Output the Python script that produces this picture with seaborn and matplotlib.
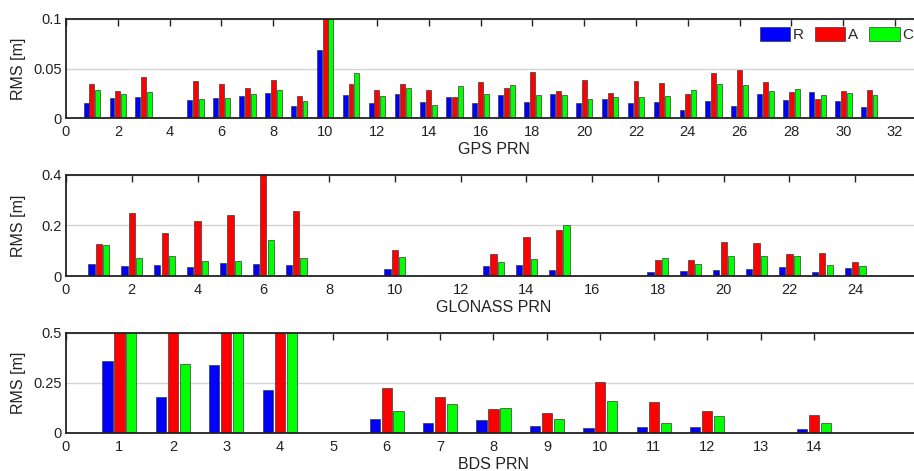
import matplotlib
matplotlib.use("Agg")
import matplotlib.pyplot as plt
import pandas as pd
import seaborn as sns

sns.set_theme(style="white")
plt.rcParams["font.family"] = ["Liberation Sans", "DejaVu Sans"]

# RMS of the three orbit components per satellite (R = radial, A = along, C = cross)
gps_prn = [1, 2, 3, 5, 6, 7, 8, 9, 10, 11, 12, 13, 14, 15, 16, 17, 18, 19, 20,
           21, 22, 23, 24, 25, 26, 27, 28, 29, 30, 31]
gps_r = [0.0148, 0.0199, 0.0215, 0.0178, 0.0199, 0.0219, 0.0253, 0.0125, 0.0684,
         0.0232, 0.0148, 0.0239, 0.0162, 0.0215, 0.0155, 0.0236, 0.0158, 0.0242,
         0.0148, 0.0189, 0.0148, 0.0165, 0.0077, 0.0172, 0.0121, 0.0246, 0.0178,
         0.0266, 0.0168, 0.0111]
gps_a = [0.0343, 0.0269, 0.0411, 0.0370, 0.0347, 0.0303, 0.0384, 0.0222, 0.1250,
         0.0347, 0.0286, 0.0340, 0.0286, 0.0215, 0.0364, 0.0300, 0.0465, 0.0273,
         0.0380, 0.0256, 0.0374, 0.0350, 0.0246, 0.0451, 0.0485, 0.0360, 0.0263,
         0.0195, 0.0276, 0.0286]
gps_c = [0.0286, 0.0239, 0.0266, 0.0195, 0.0199, 0.0246, 0.0286, 0.0168, 0.1150,
         0.0455, 0.0219, 0.0300, 0.0135, 0.0323, 0.0246, 0.0330, 0.0232, 0.0236,
         0.0195, 0.0215, 0.0209, 0.0219, 0.0286, 0.0343, 0.0337, 0.0276, 0.0290,
         0.0236, 0.0256, 0.0229]

glo_prn = [1, 2, 3, 4, 5, 6, 7, 10, 13, 14, 15, 18, 19, 20, 21, 22, 23, 24]
glo_r = [0.047, 0.039, 0.043, 0.035, 0.052, 0.049, 0.044, 0.027, 0.040, 0.044,
         0.024, 0.017, 0.020, 0.023, 0.028, 0.036, 0.016, 0.031]
glo_a = [0.127, 0.248, 0.169, 0.216, 0.240, 0.450, 0.259, 0.103, 0.088, 0.155,
         0.183, 0.064, 0.064, 0.133, 0.131, 0.089, 0.092, 0.056]
glo_c = [0.124, 0.071, 0.081, 0.061, 0.060, 0.144, 0.072, 0.077, 0.056, 0.067,
         0.200, 0.072, 0.048, 0.081, 0.079, 0.080, 0.045, 0.041]

bds_prn = [1, 2, 3, 4, 6, 7, 8, 9, 10, 11, 12, 14]
bds_r = [0.361, 0.181, 0.342, 0.215, 0.070, 0.050, 0.064, 0.035, 0.025, 0.030,
         0.030, 0.018]
bds_a = [0.800, 0.700, 0.900, 0.750, 0.223, 0.181, 0.122, 0.099, 0.255, 0.154,
         0.112, 0.089]
bds_c = [0.600, 0.344, 0.650, 0.550, 0.111, 0.146, 0.126, 0.070, 0.161, 0.050,
         0.084, 0.052]

components = ["R", "A", "C"]
colors = {"R": "#0000ff", "A": "#ff0000", "C": "#00ff00"}

systems = [
    ("GPS PRN", gps_prn, gps_r, gps_a, gps_c, 33, list(range(0, 33, 2)),
     [0, 0.05, 0.1], ["0", "0.05", "0.1"]),
    ("GLONASS PRN", glo_prn, glo_r, glo_a, glo_c, 26, list(range(0, 25, 2)),
     [0, 0.2, 0.4], ["0", "0.2", "0.4"]),
    ("BDS PRN", bds_prn, bds_r, bds_a, bds_c, 16, list(range(0, 15, 1)),
     [0, 0.25, 0.5], ["0", "0.25", "0.5"]),
]

W, H = 914, 471
fig = plt.figure(figsize=(W / 100, H / 100), dpi=100)

# panel boxes in pixels: (left, top, right, bottom)
boxes = [(66, 19, 921, 118), (66, 175, 921, 276), (66, 333, 921, 433)]

for i, (sysname, prn, r, a, c, xmax, xt, yt, ytl) in enumerate(systems):
    l, t, rr, b = boxes[i]
    ax = fig.add_axes([l / W, 1 - b / H, (rr - l) / W, (b - t) / H])
    df = pd.DataFrame({
        "prn": prn * 3,
        "rms": r + a + c,
        "comp": ["R"] * len(prn) + ["A"] * len(prn) + ["C"] * len(prn),
    })
    sns.barplot(data=df, x="prn", y="rms", hue="comp", hue_order=components,
                palette=colors, native_scale=True, width=0.67, gap=0.15,
                errorbar=None, saturation=1, edgecolor="#3a3a3a", linewidth=0.5,
                ax=ax, legend=(i == 0))
    ax.set_xlim(0, xmax)
    ax.set_ylim(yt[0], yt[-1])
    ax.set_xticks(xt)
    ax.set_xticklabels([str(v) for v in xt])
    ax.set_yticks(yt)
    ax.set_yticklabels(ytl)
    ax.set_axisbelow(True)
    ax.yaxis.grid(True, color="#d4d4d4", linewidth=1.0)
    ax.xaxis.grid(False)
    for sp in ax.spines.values():
        sp.set_color("#222222")
        sp.set_linewidth(1.3)
    ax.tick_params(axis="both", direction="in", top=True, right=True,
                   length=5, width=1.0, color="#222222", labelsize=10.5,
                   labelcolor="#222222")
    ax.tick_params(axis="x", pad=5)
    ax.tick_params(axis="y", pad=3)
    ax.set_xlabel(sysname, fontsize=11.5, color="#222222", labelpad=2)
    ax.set_ylabel("RMS [m]", fontsize=11.5, color="#222222")
    ax.yaxis.set_label_coords(-0.047, 0.5)

    if i == 0:
        handles, labels = ax.get_legend_handles_labels()
        for h in handles:
            h.set_edgecolor("#3a3a3a")
            h.set_linewidth(0.5)
        ax.legend(handles, labels, ncol=3, loc="upper right",
                  bbox_to_anchor=(0.999, 1 - 27 / H), bbox_transform=fig.transFigure,
                  frameon=False, handlelength=2.0, handleheight=1.0,
                  handletextpad=0.15, columnspacing=0.75, fontsize=11,
                  borderaxespad=0, borderpad=0)

fig.savefig("out.png", dpi=100)
